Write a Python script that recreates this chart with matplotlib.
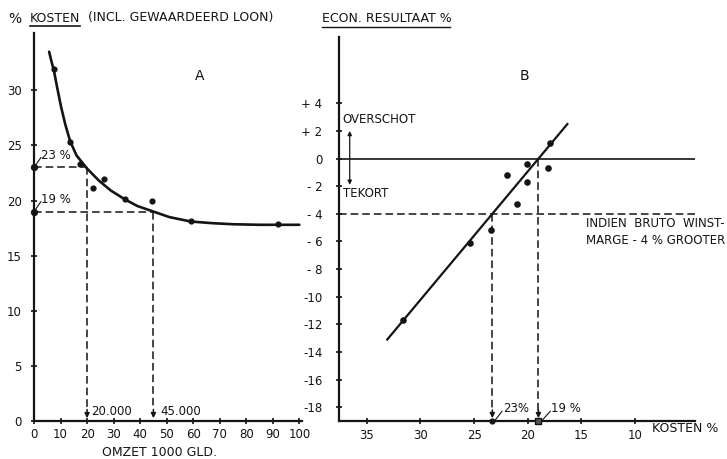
import matplotlib
matplotlib.use("Agg")
import matplotlib.pyplot as plt
from matplotlib.lines import Line2D

# --- panel A: kosten % vs omzet (1000 gld) ---
omzet_pts = [7.5, 13.6, 17.3, 22.2, 26.4, 34.3, 44.5, 59.2, 92.0]
kosten_pts = [31.9, 25.3, 23.3, 21.1, 22.0, 20.1, 20.0, 18.1, 17.9]
curve_x = [5.7, 6.5, 7.5, 8.7, 10.2, 11.8, 13.6, 16.0, 20.0, 24.5, 29.0,
           34.3, 39.0, 45.0, 51.0, 59.0, 67.0, 75.0, 85.0, 100.0]
curve_y = [33.5, 32.7, 31.8, 30.3, 28.5, 26.9, 25.4, 24.1, 22.9, 21.8, 20.9,
           20.1, 19.5, 19.0, 18.5, 18.1, 17.95, 17.85, 17.8, 17.8]
a_xticks = [0, 10, 20, 30, 40, 50, 60, 70, 80, 90, 100]
a_yticks = [0, 5, 10, 15, 20, 25, 30]
omzet_marks = [20, 45]
kosten_marks = [23, 19]

# --- panel B: econ. resultaat % vs kosten % ---
b_kosten = [31.6, 25.4, 23.4, 21.9, 21.0, 20.1, 20.1, 18.1, 17.9]
b_result = [-11.7, -6.1, -5.2, -1.2, -3.3, -1.7, -0.4, -0.65, 1.1]
b_line_x = [33.1, 16.3]
b_line_y = [-13.1, 2.5]
b_xticks = [35, 30, 25, 20, 15, 10]
b_yticks = [4, 2, 0, -2, -4, -6, -8, -10, -12, -14, -16, -18]
b_ylabels = ["+ 4", "+ 2", "0", "- 2", "- 4", "- 6", "- 8", "-10", "-12",
             "-14", "-16", "-18"]

W, H = 727, 459
INK = "#141414"
plt.rcParams["font.family"] = ["DejaVu Sans"]

fig = plt.figure(figsize=(W / 100, H / 100), dpi=100)
fig.patch.set_facecolor("white")


def fx(px):
    return px / W


def fy(py):
    return 1 - py / H


def style_axes(ax):
    for s in ("top", "right"):
        ax.spines[s].set_visible(False)
    for s in ("left", "bottom"):
        ax.spines[s].set_linewidth(1.6)
        ax.spines[s].set_color(INK)
    ax.tick_params(direction="inout", length=4, width=1.2, colors=INK,
                   labelsize=8.5)
    ax.set_facecolor("none")


dash = dict(color=INK, lw=1.1, dashes=(5, 2.6))

# ---------------- panel A ----------------
axA = fig.add_axes([fx(34), fy(421), fx(268), 388 / H])
style_axes(axA)
axA.set_xlim(0, 101)
axA.set_ylim(0, 35.2)
axA.set_xticks(a_xticks)
axA.set_yticks(a_yticks)
axA.tick_params(axis="x", pad=3)
axA.tick_params(axis="y", pad=7)

axA.plot(curve_x, curve_y, color=INK, lw=1.9, solid_capstyle="round")
axA.scatter(omzet_pts, kosten_pts, s=12, color=INK, zorder=3)

for xm, ym in zip(omzet_marks, kosten_marks):
    axA.plot([0, xm], [ym, ym], **dash)
    axA.plot([xm, xm], [ym, 1.2], **dash)
    axA.annotate("", xy=(xm, 0), xytext=(xm, 1.3),
                 arrowprops=dict(arrowstyle="-|>", color=INK, lw=1.1,
                                 mutation_scale=7))
    axA.scatter([0], [ym], s=18, color=INK, zorder=4, clip_on=False)
    axA.plot([0, 2.6], [ym, ym + 0.9], color=INK, lw=0.8)
    axA.text(2.8, ym + 1.1, f"{ym} %", fontsize=8.5, color=INK,
             va="center", ha="left")

axA.text(21.5, 0.9, "20.000", fontsize=8.5, color=INK, va="center")
axA.text(47.5, 0.9, "45.000", fontsize=8.5, color=INK, va="center")
axA.text(62.6, 31.3, "A", fontsize=10, color=INK, ha="center", va="center")

# ---------------- panel B ----------------
axB = fig.add_axes([fx(339), fy(421), fx(356), 384 / H])
style_axes(axB)
axB.set_xlim(37.6, 4.4)
axB.set_ylim(-19, 8.8)
axB.set_xticks(b_xticks)
axB.set_yticks(b_yticks)
axB.set_yticklabels(b_ylabels)
axB.tick_params(axis="x", pad=4)
axB.tick_params(axis="y", pad=10)

axB.axhline(0, color=INK, lw=1.2)
axB.axhline(-4, **dash)
axB.plot(b_line_x, b_line_y, color=INK, lw=1.6)
axB.scatter(b_kosten, b_result, s=14, color=INK, zorder=3)

# drops to the kosten axis
axB.plot([23.3, 23.3], [-4, -18.3], **dash)
axB.plot([19.0, 19.0], [0, -18.3], **dash)
for xm in (23.3, 19.0):
    axB.annotate("", xy=(xm, -19), xytext=(xm, -18.0),
                 arrowprops=dict(arrowstyle="-|>", color=INK, lw=1.1,
                                 mutation_scale=7))
axB.scatter([23.3], [-19], s=12, color=INK, zorder=4, clip_on=False)
axB.scatter([19.0], [-19], s=22, marker="s", color="#555555",
            edgecolor=INK, zorder=4, clip_on=False)
axB.plot([23.0, 22.4], [-18.9, -18.3], color=INK, lw=0.8)
axB.text(22.3, -18.1, "23%", fontsize=8.5, color=INK, va="center")
axB.plot([18.6, 17.9], [-18.9, -18.3], color=INK, lw=0.8)
axB.text(17.8, -18.1, "19 %", fontsize=8.5, color=INK, va="center")

# overschot / tekort
axB.annotate("", xy=(36.6, 2.2), xytext=(36.6, -2.1),
             arrowprops=dict(arrowstyle="<|-|>", color=INK, lw=0.9,
                             mutation_scale=6))
axB.text(37.3, 2.8, "OVERSCHOT", fontsize=8.5, color=INK, va="center")
axB.text(37.2, -2.5, "TEKORT", fontsize=8.5, color=INK, va="center")
axB.text(20.3, 6.0, "B", fontsize=10, color=INK, ha="center", va="center")
axB.text(14.6, -4.7, "INDIEN  BRUTO  WINST-", fontsize=8.5, color=INK,
         va="center")
axB.text(14.6, -5.9, "MARGE - 4 % GROOTER", fontsize=8.5, color=INK,
         va="center")

# ---------------- headings ----------------
fig.text(fx(8), fy(19), "%", fontsize=10, color=INK, va="center")
fig.text(fx(30), fy(18), "KOSTEN", fontsize=9, color=INK, va="center")
fig.text(fx(88), fy(18), "(INCL. GEWAARDEERD LOON)", fontsize=9, color=INK,
         va="center")
fig.add_artist(Line2D([fx(30), fx(80)], [fy(26), fy(26)], color=INK, lw=1.2,
                      transform=fig.transFigure))
fig.text(fx(322), fy(18), "ECON. RESULTAAT %", fontsize=9, color=INK,
         va="center")
fig.add_artist(Line2D([fx(322), fx(450)], [fy(27), fy(27)], color=INK,
                      lw=1.0, transform=fig.transFigure))
fig.text(fx(160), fy(452), "OMZET 1000 GLD.", fontsize=9, color=INK,
         ha="center", va="center")
fig.text(fx(652), fy(429), "KOSTEN %", fontsize=9, color=INK, va="center")

fig.savefig("out.png", dpi=100, facecolor="white")
